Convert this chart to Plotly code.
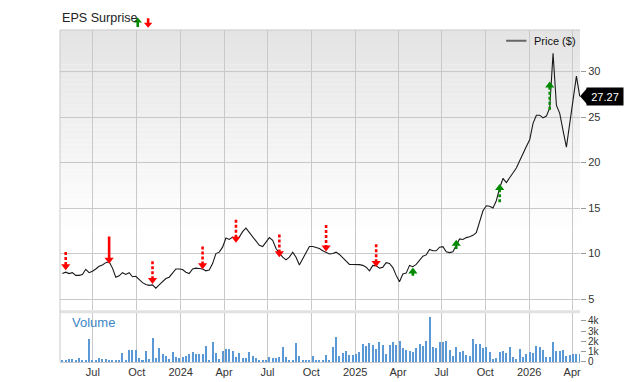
import plotly.graph_objects as go
import pandas as pd

# ---------------- data ----------------
week_start = "2023-04-28"
n_weeks = 156
dates = pd.date_range(week_start, periods=n_weeks, freq="7D")

price = [
    7.8, 7.95, 7.8, 7.9, 7.6, 7.6, 7.7, 8.27, 7.9, 8.05,
    8.3, 8.6, 8.75, 9.0, 9.1, 8.4, 7.4, 7.55, 7.9, 7.7,
    7.9, 7.45, 7.5, 7.1, 6.8, 6.6, 6.5, 6.55, 6.2, 6.55,
    6.9, 7.25, 7.4, 7.9, 8.3, 8.3, 8.25, 7.95, 7.8, 8.3,
    8.4, 8.35, 8.3, 8.1, 8.2, 8.9, 10.0, 10.15, 10.7, 11.7,
    11.55, 11.8, 11.6, 11.8, 12.4, 12.8, 12.3, 11.85, 11.4, 10.9,
    10.77, 11.3, 11.75, 11.45, 10.55, 10.05, 9.6, 9.3, 9.6, 10.15,
    9.6, 8.75, 9.4, 10.05, 10.77, 10.77, 10.7, 10.55, 10.3, 10.1,
    9.95, 10.0, 10.15, 9.9, 9.5, 9.15, 8.8, 8.8, 8.8, 8.78,
    8.7, 8.5, 8.1, 8.7, 8.65, 8.4, 8.5, 9.0, 8.92, 8.45,
    7.6, 6.9, 7.75, 7.85, 8.7, 8.55, 8.8, 9.25, 9.7, 9.85,
    10.45, 10.3, 10.3, 10.7, 10.75, 10.2, 10.1, 10.2, 10.85, 11.6,
    11.55, 11.75, 11.85, 12.0, 12.3, 13.5, 14.7, 15.25, 15.2, 15.0,
    15.8, 17.2, 18.25, 17.8, 18.3, 18.82, 19.4, 20.2, 20.9, 21.75,
    22.5, 24.3, 25.2, 25.2, 24.9, 25.1, 26.0, 32.0, 26.3, 25.4,
    23.5, 21.7, 24.3, 27.0, 29.5, 27.27,
]

volume_k = [
    0.2, 0.2, 0.25, 0.3, 0.1, 0.4, 0.2, 0.2, 2.2, 0.15,
    0.1, 0.35, 0.25, 0.3, 0.15, 0.2, 0.2, 0.2, 0.85, 0.1,
    1.2, 1.15, 1.15, 0.4, 0.2, 1.1, 0.3, 2.35, 0.4, 1.3,
    0.75, 0.6, 0.3, 0.95, 0.45, 0.4, 0.45, 0.6, 0.8, 0.95,
    0.8, 0.8, 0.78, 1.5, 0.2, 1.9, 0.85, 0.3, 1.1, 1.25,
    1.25, 1.1, 0.5, 0.85, 0.4, 0.4, 1.0, 0.55, 0.4, 0.1,
    0.1, 0.1, 0.5, 0.35, 0.4, 0.5, 1.45, 0.5, 0.2, 0.2,
    1.8, 0.6, 0.2, 0.2, 0.2, 0.55, 0.2, 0.2, 0.2, 0.7,
    0.2, 1.45, 2.4, 0.55, 0.85, 1.05, 0.7, 0.7, 0.8, 1.0,
    1.75, 1.55, 1.8, 1.65, 1.25, 1.9, 1.6, 0.8, 1.65, 1.9,
    1.65, 2.0, 1.35, 1.15, 1.1, 0.95, 1.35, 1.7, 1.55, 2.0,
    4.4, 1.45, 1.35, 1.95, 1.9, 2.0, 1.15, 0.55, 1.45, 0.95,
    1.05, 0.7, 0.6, 2.2, 1.75, 1.7, 1.35, 1.45, 0.95, 0.25,
    0.4, 0.95, 1.05, 0.9, 1.45, 0.5, 0.3, 1.25, 0.5, 0.8,
    0.95, 0.9, 1.55, 1.45, 1.2, 0.45, 0.45, 1.95, 1.1, 1.1,
    1.15, 0.6, 0.7, 0.75, 0.8, 0.8,
]

# EPS surprise events: week index, arrow tip price, arrow length (price units)
eps_week = [1, 14, 27, 42, 52, 65, 79, 94, 105, 118, 131, 146]
eps_tip = [8.17, 8.88, 6.66, 8.27, 11.2, 9.6, 10.24, 8.52, 8.45, 11.5, 17.64, 28.9]
eps_len = [2.0, 3.0, 2.5, 2.5, 2.5, 2.5, 2.9, 2.5, 0.9, 1.0, 2.0, 3.1]
eps_dir = ["down"] * 8 + ["up"] * 4
eps_solid = [False, True, False, False, False, False, False, False, False, False, False, False]

tick_dates = ["2023-07-01", "2023-10-01", "2024-01-01", "2024-04-01", "2024-07-01",
              "2024-10-01", "2025-01-01", "2025-04-01", "2025-07-01", "2025-10-01",
              "2026-01-01", "2026-04-01"]
tick_text = ["Jul", "Oct", "2024", "Apr", "Jul", "Oct", "2025", "Apr", "Jul", "Oct", "2026", "Apr"]

price_ticks = [5, 10, 15, 20, 25, 30]
vol_ticks = [0, 1, 2, 3, 4]
vol_tick_text = ["0", "1k", "2k", "3k", "4k"]

last_price_label = "27.27"

# ---------------- figure ----------------
FONT = "Liberation Sans, Arial, sans-serif"
RED = "#ff0000"
GREEN = "#008a00"
GRID = "#c9c9c9"
y_range = [3.77, 34.56]
v_range = [0, 4.76]
x_range = ["2023-04-23", "2026-04-17 12:00"]
head_off = 0.43  # ~4px in price units

fig = go.Figure()

# volume bars
fig.add_trace(go.Bar(
    x=dates, y=volume_k, xaxis="x2", yaxis="y2",
    marker=dict(color="#5a98d6", line=dict(width=0)),
    width=4.2 * 86400000, showlegend=False, hoverinfo="skip",
))

# price line
fig.add_trace(go.Scatter(
    x=dates, y=price, mode="lines", xaxis="x", yaxis="y",
    line=dict(color="#1a1a1a", width=1.1), showlegend=False,
))

# EPS arrows: stems
def stems(sel):
    xs, ys = [], []
    for k in sel:
        d = dates[eps_week[k]]
        tip = eps_tip[k]
        if eps_dir[k] == "down":
            top, base = tip + eps_len[k], tip + head_off
        else:
            top, base = tip - eps_len[k], tip - head_off
        xs += [d, d, None]
        ys += [top, base, None]
    return xs, ys

groups = [
    ([k for k in range(12) if eps_dir[k] == "down" and not eps_solid[k]], RED, "3px,2px"),
    ([k for k in range(12) if eps_dir[k] == "down" and eps_solid[k]], RED, "solid"),
    ([k for k in range(12) if eps_dir[k] == "up"], GREEN, "3px,2px"),
]
for sel, col, dash in groups:
    if not sel:
        continue
    xs, ys = stems(sel)
    fig.add_trace(go.Scatter(
        x=xs, y=ys, mode="lines", xaxis="x", yaxis="y",
        line=dict(color=col, width=2.6, dash=dash),
        showlegend=False, hoverinfo="skip", cliponaxis=False,
    ))

# heads
for direction, col, sym in [("down", RED, "triangle-down"), ("up", GREEN, "triangle-up")]:
    sel = [k for k in range(12) if eps_dir[k] == direction]
    hx = [dates[eps_week[k]] for k in sel]
    hy = [eps_tip[k] + (head_off if direction == "down" else -head_off) for k in sel]
    fig.add_trace(go.Scatter(
        x=hx, y=hy, mode="markers", xaxis="x", yaxis="y",
        marker=dict(symbol=sym, size=8, color=col, line=dict(width=0)),
        showlegend=False, hoverinfo="skip", cliponaxis=False,
    ))

# ---------------- shapes (background etc.) ----------------
shapes = []
P_TOP, P_BOT = 1.0, 0.1559
V_TOP = 0.147
# gradient background in price panel
N = 40
g_top, g_bot = 1.0, 0.40
for i in range(N):
    y1 = g_top - (g_top - g_bot) * i / N
    y0 = g_top - (g_top - g_bot) * (i + 1) / N
    c = int(228 + (255 - 228) * (i + 0.5) / N)
    shapes.append(dict(type="rect", xref="paper", yref="paper", x0=0, x1=1, y0=y0, y1=y1,
                       fillcolor=f"rgb({c},{c},{c})", line=dict(width=0), layer="below"))
# band between panels
shapes.append(dict(type="rect", xref="paper", yref="paper", x0=0, x1=1, y0=V_TOP, y1=P_BOT,
                   fillcolor="#e2e2e2", line=dict(width=0), layer="below"))
# frame: left and top
shapes.append(dict(type="line", xref="paper", yref="paper", x0=0, x1=0, y0=0, y1=1,
                   line=dict(color=GRID, width=1)))
shapes.append(dict(type="line", xref="paper", yref="paper", x0=0, x1=1, y0=1, y1=1,
                   line=dict(color=GRID, width=1)))
# legend sample line for Price ($)
shapes.append(dict(type="line", xref="paper", yref="paper", x0=0.858, x1=0.897, y0=0.9676, y1=0.9676,
                   line=dict(color="#666666", width=2)))
# pointer of last-price label
shapes.append(dict(type="path", xref="paper", yref="y", xsizemode="pixel", ysizemode="pixel",
                   xanchor=1.0, yanchor=price[-1], path="M 0,0 L 7,8 L 7,-8 Z",
                   fillcolor="#000000", line=dict(width=0)))
# EPS Surprise legend glyphs (up = green, down = red)
shapes.append(dict(type="path", xref="paper", yref="paper", xsizemode="pixel", ysizemode="pixel",
                   xanchor=0.1495, yanchor=1.0088,
                   path="M -1.3,0 L 1.3,0 L 1.3,4.5 L 4.2,4.5 L 0,9.5 L -4.2,4.5 L -1.3,4.5 Z",
                   fillcolor=GREEN, line=dict(width=0)))
shapes.append(dict(type="path", xref="paper", yref="paper", xsizemode="pixel", ysizemode="pixel",
                   xanchor=0.1695, yanchor=1.0353,
                   path="M -1.3,0 L 1.3,0 L 1.3,-4.5 L 4.2,-4.5 L 0,-9.5 L -4.2,-4.5 L -1.3,-4.5 Z",
                   fillcolor=RED, line=dict(width=0)))

annotations = [
    dict(text="EPS Surprise", xref="paper", yref="paper", x=0, y=1.035, xanchor="left",
         yanchor="middle", showarrow=False, font=dict(family=FONT, size=12.6, color="#222")),
    dict(text="Price ($)", xref="paper", yref="paper", x=0.908, y=0.9676, xanchor="left",
         yanchor="middle", showarrow=False, font=dict(family=FONT, size=11, color="#111")),
    dict(text="Volume", xref="paper", yref="paper", x=0.019, y=0.118, xanchor="left",
         yanchor="middle", showarrow=False, font=dict(family=FONT, size=13, color="#3d86c6")),
    dict(text=last_price_label, xref="paper", yref="y", x=1.0, y=price[-1], xanchor="left",
         yanchor="middle", xshift=6, showarrow=False, bgcolor="#000000", borderpad=1,
         width=34, height=15, font=dict(family=FONT, size=11, color="#ffffff")),
]

axis_font = dict(family=FONT, size=11, color="#333333")
vol_font = dict(family=FONT, size=10, color="#333333")
# page body has an 8px default margin, so the figure is offset to put the
# plot area at x 60..580, y 30..370 of the window
fig.update_layout(
    width=640, height=382,
    margin=dict(l=52, r=68, t=22, b=20),
    paper_bgcolor="#ffffff", plot_bgcolor="rgba(0,0,0,0)",
    showlegend=False, bargap=0,
    shapes=shapes, annotations=annotations,
    xaxis=dict(domain=[0, 1], anchor="y", range=x_range, type="date",
               tickvals=tick_dates, showticklabels=False, ticks="",
               showgrid=True, gridcolor=GRID, gridwidth=1, zeroline=False, showline=False),
    xaxis2=dict(domain=[0, 1], anchor="y2", range=x_range, type="date", matches="x",
                tickvals=tick_dates, ticktext=tick_text, tickfont=axis_font, ticks="",
                showgrid=True, gridcolor=GRID, gridwidth=1, zeroline=False,
                showline=True, linecolor=GRID, linewidth=1),
    yaxis=dict(domain=[P_BOT, P_TOP], anchor="x", side="right", range=y_range,
               tickvals=price_ticks, tickfont=axis_font, ticks="outside", ticklen=5,
               tickcolor="#999999", showgrid=True, gridcolor=GRID, gridwidth=1,
               zeroline=False, showline=False),
    yaxis2=dict(domain=[0, V_TOP], anchor="x2", side="right", range=v_range,
                tickvals=vol_ticks, ticktext=vol_tick_text, tickfont=vol_font,
                ticks="outside", ticklen=5, tickcolor="#999999",
                showgrid=False, zeroline=False, showline=False),
)

fig.write_html("out.html")
